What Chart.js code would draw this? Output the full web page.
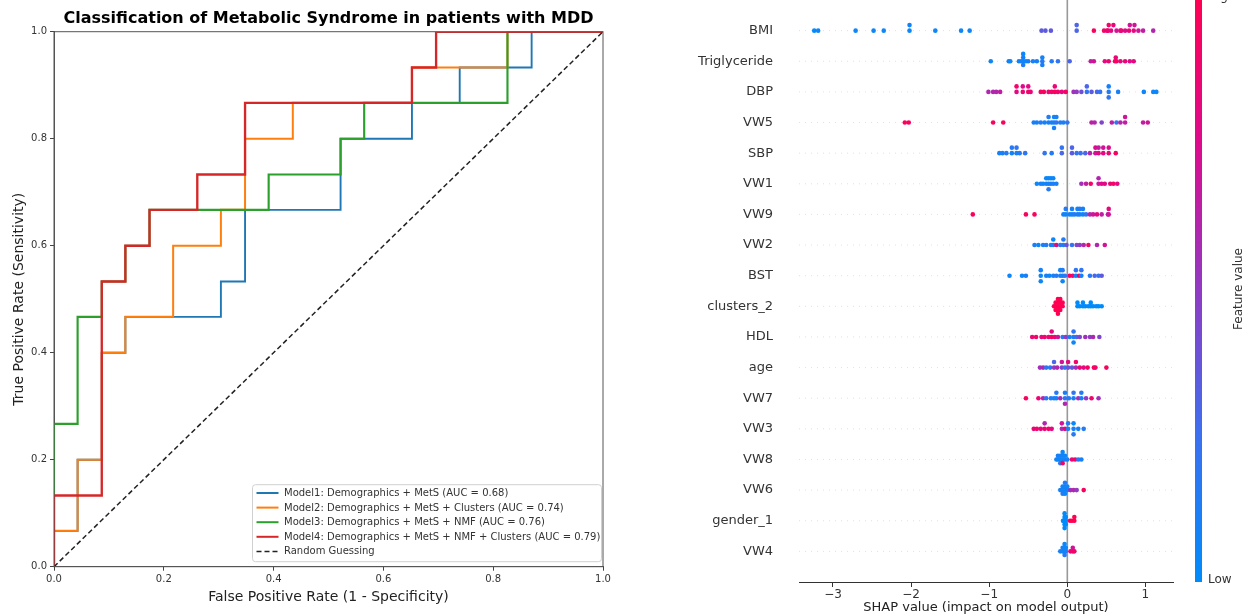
<!DOCTYPE html>
<html><head><meta charset="utf-8">
<script src="https://cdn.jsdelivr.net/npm/chart.js@4.4.1/dist/chart.umd.min.js"></script>
<style>
html,body{margin:0;padding:0;background:#fff;overflow:hidden;}
#wrap{position:relative;width:1249px;height:615px;background:#fff;}
#c1{position:absolute;left:0;top:0;width:640px;height:615px;}
#c2{position:absolute;left:640px;top:0;width:609px;height:615px;}
</style></head><body>
<div id="wrap"><canvas id="c1" width="640" height="615"></canvas><canvas id="c2" width="609" height="615"></canvas></div>
<script>
// ---------- ROC data (left panel) ----------
const fpr1 = [0,0,0.043,0.043,0.087,0.087,0.130,0.130,0.304,0.304,0.348,0.348,0.522,0.522,0.652,0.652,0.739,0.739,0.870,0.870,1.0];
const tpr1 = [0,0.067,0.067,0.200,0.200,0.400,0.400,0.467,0.467,0.533,0.533,0.667,0.667,0.800,0.800,0.867,0.867,0.933,0.933,1.0,1.0];
const fpr2 = [0,0,0.043,0.043,0.087,0.087,0.130,0.130,0.217,0.217,0.304,0.304,0.348,0.348,0.435,0.435,0.652,0.652,0.826,0.826,1.0];
const tpr2 = [0,0.067,0.067,0.200,0.200,0.400,0.400,0.467,0.467,0.600,0.600,0.667,0.667,0.800,0.800,0.867,0.867,0.933,0.933,1.0,1.0];
const fpr3 = [0,0,0.043,0.043,0.087,0.087,0.130,0.130,0.174,0.174,0.391,0.391,0.522,0.522,0.565,0.565,0.826,0.826,1.0];
const tpr3 = [0,0.267,0.267,0.467,0.467,0.533,0.533,0.600,0.600,0.667,0.667,0.733,0.733,0.800,0.800,0.867,0.867,1.0,1.0];
const fpr4 = [0,0,0.087,0.087,0.130,0.130,0.174,0.174,0.261,0.261,0.348,0.348,0.652,0.652,0.696,0.696,1.0];
const tpr4 = [0,0.133,0.133,0.533,0.533,0.600,0.600,0.667,0.667,0.733,0.733,0.867,0.867,0.933,0.933,1.0,1.0];
const diagX = [0,1];
const diagY = [0,1];
const rocLabels = [
  'Model1: Demographics + MetS (AUC = 0.68)',
  'Model2: Demographics + MetS + Clusters (AUC = 0.74)',
  'Model3: Demographics + MetS + NMF (AUC = 0.76)',
  'Model4: Demographics + MetS + NMF + Clusters (AUC = 0.79)'
];
const randomLabel = 'Random Guessing';
const rocColors = ['#1f77b4','#ff7f0e','#2ca02c','#d62728'];
const rocWidths = [1.9,2.0,2.15,2.35];
const rocTitle = 'Classification of Metabolic Syndrome in patients with MDD';
const rocTicks = [0,0.2,0.4,0.6,0.8,1.0];

// ---------- SHAP data (right panel) ----------
const features = ['BMI','Triglyceride','DBP','VW5','SBP','VW1','VW9','VW2','BST','clusters_2','HDL','age','VW7','VW3','VW8','VW6','gender_1','VW4'];
const shapBMI = [-3.24,-3.19,-2.71,-2.48,-2.35,-2.02,-2.02,-1.69,-1.36,-1.25,-0.33,-0.28,-0.21,0.12,0.12,0.34,0.47,0.51,0.52,0.53,0.56,0.59,0.63,0.68,0.69,0.74,0.79,0.80,0.85,0.86,0.91,0.97,1.10];
const valBMI  = [0.02,0.05,0.05,0.05,0.05,0.05,0.08,0.05,0.05,0.05,0.35,0.35,0.35,0.3,0.3,0.95,0.9,0.95,0.85,0.9,0.8,0.85,0.7,0.8,0.85,0.75,0.85,0.7,0.8,0.7,0.7,0.65,0.6];
const shapTrig = [-0.98,-0.75,-0.73,-0.62,-0.59,-0.565,-0.565,-0.565,-0.565,-0.53,-0.50,-0.44,-0.39,-0.32,-0.32,-0.32,-0.20,-0.12,0.03,0.30,0.34,0.48,0.53,0.61,0.62,0.63,0.68,0.74,0.80,0.85];
const valTrig  = [0.05,0.1,0.05,0.05,0.1,0.05,0.1,0.15,0.05,0.05,0.1,0.1,0.1,0.15,0.1,0.1,0.15,0.2,0.3,0.65,0.7,0.8,0.85,0.9,0.85,0.95,0.8,0.85,0.75,0.8];
const shapDBP = [-1.01,-0.95,-0.91,-0.86,-0.65,-0.65,-0.57,-0.57,-0.50,-0.50,-0.47,-0.34,-0.30,-0.24,-0.20,-0.16,-0.16,-0.12,-0.07,-0.02,0.08,0.12,0.18,0.25,0.25,0.31,0.38,0.42,0.53,0.53,0.53,0.65,0.98,1.10,1.14];
const valDBP  = [0.6,0.6,0.6,0.65,0.8,0.9,0.85,0.75,0.9,0.8,0.85,0.9,0.95,0.85,0.9,0.95,0.85,0.9,0.8,0.9,0.55,0.5,0.4,0.2,0.3,0.35,0.3,0.2,0.15,0.1,0.2,0.1,0.05,0.05,0.05];
const shapVW5 = [-2.08,-2.03,-0.95,-0.82,-0.43,-0.39,-0.34,-0.29,-0.24,-0.24,-0.20,-0.17,-0.17,-0.17,-0.14,-0.14,-0.09,-0.05,0.0,0.31,0.35,0.44,0.57,0.63,0.68,0.74,0.74,0.97,1.03];
const valVW5  = [0.95,0.95,0.95,0.95,0.1,0.1,0.15,0.1,0.1,0.15,0.1,0.1,0.05,0.1,0.2,0.1,0.15,0.1,0.2,0.65,0.6,0.45,0.65,0.2,0.6,0.65,0.7,0.65,0.7];
const shapSBP = [-0.87,-0.83,-0.78,-0.71,-0.71,-0.65,-0.65,-0.61,-0.54,-0.29,-0.20,-0.07,-0.07,0.06,0.06,0.12,0.17,0.23,0.29,0.36,0.36,0.40,0.40,0.46,0.46,0.53,0.53,0.62];
const valSBP  = [0.1,0.1,0.15,0.1,0.15,0.1,0.2,0.15,0.2,0.2,0.15,0.3,0.2,0.35,0.3,0.2,0.25,0.3,0.6,0.7,0.75,0.8,0.65,0.8,0.7,0.85,0.75,0.95];
const shapVW1 = [-0.39,-0.34,-0.31,-0.27,-0.27,-0.24,-0.24,-0.24,-0.21,-0.21,-0.18,-0.18,-0.14,0.18,0.24,0.30,0.40,0.40,0.44,0.48,0.55,0.59,0.64];
const valVW1  = [0.05,0.1,0.05,0.1,0.05,0.1,0.05,0.15,0.1,0.05,0.1,0.05,0.1,0.55,0.65,0.9,0.7,0.6,0.75,0.8,0.85,0.9,0.8];
const shapVW9 = [-1.21,-0.53,-0.42,-0.05,-0.02,-0.02,0.03,0.06,0.06,0.09,0.13,0.13,0.16,0.16,0.20,0.20,0.24,0.29,0.33,0.38,0.44,0.52,0.53,0.53];
const valVW9  = [0.95,0.95,0.95,0.1,0.05,0.15,0.1,0.05,0.1,0.15,0.1,0.05,0.1,0.15,0.05,0.1,0.2,0.6,0.7,0.8,0.65,0.6,0.7,0.8];
const shapVW2 = [-0.42,-0.37,-0.31,-0.27,-0.21,-0.18,-0.18,-0.14,-0.09,-0.05,-0.05,-0.01,0.06,0.12,0.16,0.21,0.27,0.38,0.48];
const valVW2  = [0.1,0.05,0.1,0.15,0.1,0.1,0.05,0.85,0.2,0.1,0.15,0.4,0.2,0.45,0.5,0.6,0.9,0.6,0.7];
const shapBST = [-0.74,-0.58,-0.53,-0.34,-0.34,-0.34,-0.27,-0.23,-0.18,-0.14,-0.09,-0.09,-0.06,-0.06,-0.06,-0.03,0.03,0.07,0.11,0.11,0.15,0.18,0.18,0.29,0.35,0.40,0.44];
const valBST  = [0.05,0.05,0.1,0.05,0.1,0.05,0.1,0.05,0.1,0.15,0.1,0.05,0.1,0.15,0.05,0.2,0.95,0.85,0.1,0.2,0.9,0.1,0.2,0.15,0.3,0.2,0.35];
const shapClu = [-0.17,-0.15,-0.15,-0.15,-0.12,-0.12,-0.12,-0.12,-0.12,-0.09,-0.09,-0.09,-0.09,-0.06,-0.06,0.13,0.13,0.16,0.20,0.20,0.23,0.27,0.30,0.30,0.33,0.37,0.40,0.44];
const valClu  = [1,1,1,1,1,1,1,1,1,1,1,1,1,1,1,0,0,0,0,0,0,0,0,0,0,0,0,0];
const shapHDL = [-0.45,-0.40,-0.33,-0.29,-0.24,-0.20,-0.20,-0.16,-0.12,-0.06,-0.02,0.03,0.08,0.08,0.08,0.12,0.16,0.23,0.29,0.33,0.41];
const valHDL  = [0.85,0.9,0.8,0.9,0.85,0.95,0.8,0.85,0.7,0.15,0.5,0.1,0.1,0.2,0.05,0.3,0.45,0.55,0.5,0.6,0.45];
const shapAge = [-0.35,-0.31,-0.27,-0.22,-0.17,-0.17,-0.13,-0.07,-0.07,-0.03,0.01,0.01,0.06,0.11,0.11,0.16,0.21,0.26,0.34,0.36,0.50];
const valAge  = [0.55,0.6,0.2,0.15,0.5,0.3,0.6,0.45,0.7,0.15,0.4,0.8,0.35,0.55,0.9,0.85,0.8,0.9,0.95,0.9,0.95];
const shapVW7 = [-0.53,-0.37,-0.31,-0.27,-0.21,-0.17,-0.14,-0.14,-0.09,-0.03,-0.03,-0.03,0.02,0.08,0.08,0.14,0.18,0.18,0.24,0.31,0.40];
const valVW7  = [0.95,0.85,0.6,0.2,0.15,0.1,0.1,0.15,0.55,0.2,0.1,0.6,0.15,0.1,0.2,0.55,0.1,0.15,0.5,0.9,0.55];
const shapVW3 = [-0.43,-0.39,-0.34,-0.29,-0.29,-0.24,-0.20,-0.07,-0.07,-0.03,0.01,0.01,0.08,0.08,0.08,0.14,0.21];
const valVW3  = [0.85,0.9,0.8,0.85,0.6,0.9,0.8,0.55,0.7,0.85,0.1,0.15,0.1,0.05,0.15,0.1,0.15];
const shapVW8 = [-0.14,-0.12,-0.12,-0.09,-0.09,-0.09,-0.06,-0.06,-0.06,-0.06,-0.03,-0.03,0.0,0.06,0.10,0.14,0.18];
const valVW8  = [0.1,0.05,0.1,0.05,0.1,0.15,0.05,0.1,0.9,0.05,0.1,0.05,0.1,0.85,0.95,0.15,0.1];
const shapVW6 = [-0.09,-0.06,-0.06,-0.06,-0.03,-0.03,-0.03,-0.03,0.0,0.0,0.04,0.08,0.12,0.21];
const valVW6  = [0.1,0.05,0.1,0.15,0.05,0.1,0.05,0.15,0.1,0.05,0.55,0.6,0.5,0.95];
const shapGen = [-0.055,-0.05,-0.035,-0.035,-0.035,-0.035,-0.035,-0.02,-0.02,-0.02,0.035,0.06,0.09,0.09];
const valGen  = [0,0,0,0,0,0,0,0,0,0,1,1,1,1];
const shapVW4 = [-0.09,-0.06,-0.06,-0.035,-0.035,-0.035,-0.035,-0.02,-0.02,0.04,0.07,0.07,0.09];
const valVW4  = [0.1,0.05,0.1,0.05,0.1,0.15,0.05,0.1,0.05,0.8,0.95,0.7,0.9];
const shapTicks = [-3,-2,-1,0,1];
const cbLabels = ['High','Low','Feature value'];
const shapTitle = 'SHAP value (impact on model output)';

const shapRows = [shapBMI,shapTrig,shapDBP,shapVW5,shapSBP,shapVW1,shapVW9,shapVW2,shapBST,shapClu,shapHDL,shapAge,shapVW7,shapVW3,shapVW8,shapVW6,shapGen,shapVW4];
const valRows  = [valBMI,valTrig,valDBP,valVW5,valSBP,valVW1,valVW9,valVW2,valBST,valClu,valHDL,valAge,valVW7,valVW3,valVW8,valVW6,valGen,valVW4];

// ---------- helpers ----------
const F = "'DejaVu Sans', 'Liberation Sans', sans-serif";
const cmap = [[0,0,139,251],[0.25,60,112,240],[0.5,145,58,195],[0.75,222,10,140],[1,255,0,82]];
function colorAt(t){
  t = Math.max(0, Math.min(1, t));
  for (let i=1;i<cmap.length;i++){
    if (t <= cmap[i][0]){
      const a=cmap[i-1], b=cmap[i], f=(t-a[0])/(b[0]-a[0]);
      const r=Math.round(a[1]+(b[1]-a[1])*f), g=Math.round(a[2]+(b[2]-a[2])*f), bl=Math.round(a[3]+(b[3]-a[3])*f);
      return `rgb(${r},${g},${bl})`;
    }
  }
  return 'rgb(255,0,82)';
}
// SHAP beeswarm layout (same binning rule as shap.summary_plot)
function swarm(vals){
  const n=vals.length, mn=Math.min(...vals), mx=Math.max(...vals), nb=100;
  const q=vals.map(v=>Math.round(nb*(v-mn)/(mx-mn+1e-8)));
  const idx=[...Array(n).keys()].sort((a,b)=>q[a]-q[b]||a-b);
  const ys=new Array(n).fill(0); let layer=0,last=-1;
  for(const i of idx){ if(q[i]!==last) layer=0; ys[i]=Math.ceil(layer/2)*((layer%2)*2-1); layer++; last=q[i]; }
  const m=Math.max(...ys.map(y=>y+1));
  return ys.map(y=>y*0.9*(0.4/m));
}

// ---------- left chart ----------
const rocData = [[fpr1,tpr1],[fpr2,tpr2],[fpr3,tpr3],[fpr4,tpr4]];
const leftDatasets = rocData.map((d,i)=>({
  label: rocLabels[i],
  data: d[0].map((x,j)=>({x:x, y:d[1][j]})),
  showLine:true, borderColor: rocColors[i], borderWidth: rocWidths[i], pointRadius:0, tension:0, fill:false,
  order: 5-i
}));
leftDatasets.push({label: randomLabel, data: diagX.map((x,j)=>({x:x,y:diagY[j]})), showLine:true,
  borderColor:'#222', borderWidth:1.5, borderDash:[5,3], pointRadius:0, fill:false, order:1});

const leftDecor = {
  id:'leftDecor',
  afterDatasetsDraw(chart){
    const {ctx, chartArea:ca} = chart;
    ctx.save(); ctx.strokeStyle='#555'; ctx.lineWidth=1;
    ctx.strokeRect(ca.left, ca.top, ca.right-ca.left, ca.bottom-ca.top);
    ctx.restore();
  },
  afterDraw(chart){
    const {ctx, chartArea:ca} = chart;
    ctx.save();
    ctx.fillStyle='#000'; ctx.font='bold 16px '+F; ctx.textAlign='center'; ctx.textBaseline='middle';
    ctx.fillText(rocTitle, (ca.left+ca.right)/2, 19);
    // legend
    const bw=349, bh=77, bx=ca.right-1.5-bw, by=ca.bottom-5-bh;
    ctx.beginPath();
    const r=3;
    ctx.moveTo(bx+r,by); ctx.lineTo(bx+bw-r,by); ctx.quadraticCurveTo(bx+bw,by,bx+bw,by+r);
    ctx.lineTo(bx+bw,by+bh-r); ctx.quadraticCurveTo(bx+bw,by+bh,bx+bw-r,by+bh);
    ctx.lineTo(bx+r,by+bh); ctx.quadraticCurveTo(bx,by+bh,bx,by+bh-r);
    ctx.lineTo(bx,by+r); ctx.quadraticCurveTo(bx,by,bx+r,by); ctx.closePath();
    ctx.fillStyle='rgba(255,255,255,0.85)'; ctx.fill();
    ctx.strokeStyle='#d0d0d0'; ctx.lineWidth=1; ctx.stroke();
    const labels=[...rocLabels, randomLabel], cols=[...rocColors,'#222'];
    ctx.font='10px '+F; ctx.textAlign='left'; ctx.textBaseline='middle';
    labels.forEach((t,i)=>{
      const y=by+8.3+i*14.6;
      ctx.beginPath(); ctx.strokeStyle=cols[i]; ctx.lineWidth= i===4?1.5:2;
      ctx.setLineDash(i===4?[5,3]:[]);
      ctx.moveTo(bx+4,y); ctx.lineTo(bx+26,y); ctx.stroke();
      ctx.setLineDash([]);
      ctx.fillStyle='#333'; ctx.fillText(t, bx+31.5, y+0.5);
    });
    ctx.restore();
  }
};

new Chart(document.getElementById('c1'), {
  type:'scatter',
  data:{datasets:leftDatasets},
  options:{
    responsive:false, animation:false, events:[],
    layout:{autoPadding:false, padding:{top:31.7,right:37,bottom:0,left:0}},
    plugins:{legend:{display:false}, tooltip:{enabled:false}, title:{display:false}},
    scales:{
      x:{type:'linear', min:0, max:1,
        afterBuildTicks:s=>{s.ticks=rocTicks.map(v=>({value:v}));},
        ticks:{callback:v=>Number(v).toFixed(1), font:{family:F,size:10}, color:'#333', padding:3, maxRotation:0, autoSkip:false},
        grid:{drawOnChartArea:false, drawTicks:true, tickLength:4, tickColor:'#444'},
        border:{display:true,color:'#555',width:1},
        title:{display:true, text:'False Positive Rate (1 - Specificity)', font:{family:F,size:14}, color:'#222', padding:{top:0,bottom:9.6}},
        afterFit:s=>{s.height=48.3; s.paddingLeft=0; s.paddingRight=0;}
      },
      y:{type:'linear', min:0, max:1,
        afterBuildTicks:s=>{s.ticks=rocTicks.map(v=>({value:v}));},
        ticks:{callback:v=>Number(v).toFixed(1), font:{family:F,size:10}, color:'#333', padding:3, autoSkip:false},
        grid:{drawOnChartArea:false, drawTicks:true, tickLength:4, tickColor:'#444'},
        border:{display:true,color:'#555',width:1},
        title:{display:true, text:'True Positive Rate (Sensitivity)', font:{family:F,size:14}, color:'#222', padding:{top:10.5,bottom:0}},
        afterFit:s=>{s.width=54; s.paddingTop=0; s.paddingBottom=0;}
      }
    }
  },
  plugins:[leftDecor]
});

// ---------- right chart ----------
const nF = features.length;
const rightDatasets = shapRows.map((vals,i)=>{
  const n = Math.min(vals.length, valRows[i].length);
  const v = vals.slice(0,n), c = valRows[i].slice(0,n);
  const off = swarm(v);
  const row = nF-1-i;
  return {
    label: features[i],
    data: v.map((x,j)=>({x:x, y:row+off[j]})),
    backgroundColor: c.map(colorAt),
    pointRadius:2.3, pointBorderWidth:0, borderWidth:0, showLine:false
  };
});

const rightDecor = {
  id:'rightDecor',
  beforeDatasetsDraw(chart){
    const {ctx, chartArea:ca, scales:{x,y}} = chart;
    ctx.save();
    ctx.strokeStyle='#cccccc'; ctx.lineWidth=0.6; ctx.setLineDash([1,5]);
    for(let i=0;i<nF;i++){
      const py=y.getPixelForValue(i);
      ctx.beginPath(); ctx.moveTo(ca.left,py); ctx.lineTo(ca.right,py); ctx.stroke();
    }
    ctx.setLineDash([]);
    const px=x.getPixelForValue(0);
    ctx.strokeStyle='#999999'; ctx.lineWidth=1.6;
    ctx.beginPath(); ctx.moveTo(px,ca.top); ctx.lineTo(px,ca.bottom); ctx.stroke();
    ctx.restore();
  },
  afterDraw(chart){
    const {ctx, chartArea:ca} = chart;
    ctx.save();
    const x0=555, w=7, top=-4, bot=ca.bottom;
    const g=ctx.createLinearGradient(0,bot,0,top);
    cmap.forEach(s=>g.addColorStop(s[0], `rgb(${s[1]},${s[2]},${s[3]})`));
    ctx.fillStyle=g; ctx.fillRect(x0, top, w, bot-top);
    ctx.fillStyle='#333'; ctx.font='12px '+F; ctx.textAlign='left'; ctx.textBaseline='middle';
    ctx.fillText(cbLabels[0], x0+w+6, -3);
    ctx.fillText(cbLabels[1], x0+w+6, bot-2);
    ctx.translate(599, (top+bot)/2); ctx.rotate(-Math.PI/2); ctx.textAlign='center';
    ctx.fillText(cbLabels[2], 0, 0);
    ctx.restore();
  }
};

new Chart(document.getElementById('c2'), {
  type:'scatter',
  data:{datasets:rightDatasets},
  options:{
    responsive:false, animation:false, events:[],
    layout:{autoPadding:false, padding:{top:0,right:76,bottom:0,left:0}},
    plugins:{legend:{display:false}, tooltip:{enabled:false}, title:{display:false}},
    scales:{
      x:{type:'linear', min:-3.435, max:1.353,
        afterBuildTicks:s=>{s.ticks=shapTicks.map(v=>({value:v}));},
        ticks:{callback:v=> v<0 ? '\u2212'+Math.abs(v) : String(v), font:{family:F,size:12}, color:'#333', padding:1, maxRotation:0, autoSkip:false},
        grid:{drawOnChartArea:false, drawTicks:true, tickLength:5, tickColor:'#333'},
        border:{display:true,color:'#333',width:1},
        title:{display:true, text:shapTitle, font:{family:F,size:13}, color:'#222', padding:{top:0,bottom:0}},
        afterFit:s=>{s.height=33; s.paddingLeft=0; s.paddingRight=0;}
      },
      y:{type:'linear', min:-1, max:18,
        afterBuildTicks:s=>{s.ticks=features.map((f,i)=>({value:nF-1-i}));},
        ticks:{callback:v=>features[nF-1-v], font:{family:F,size:13}, color:'#333', padding:26, autoSkip:false},
        grid:{display:false, drawTicks:false, drawOnChartArea:false},
        border:{display:false},
        afterFit:s=>{s.width=159; s.paddingTop=0; s.paddingBottom=0;}
      }
    }
  },
  plugins:[rightDecor]
});
</script>
</body></html>
